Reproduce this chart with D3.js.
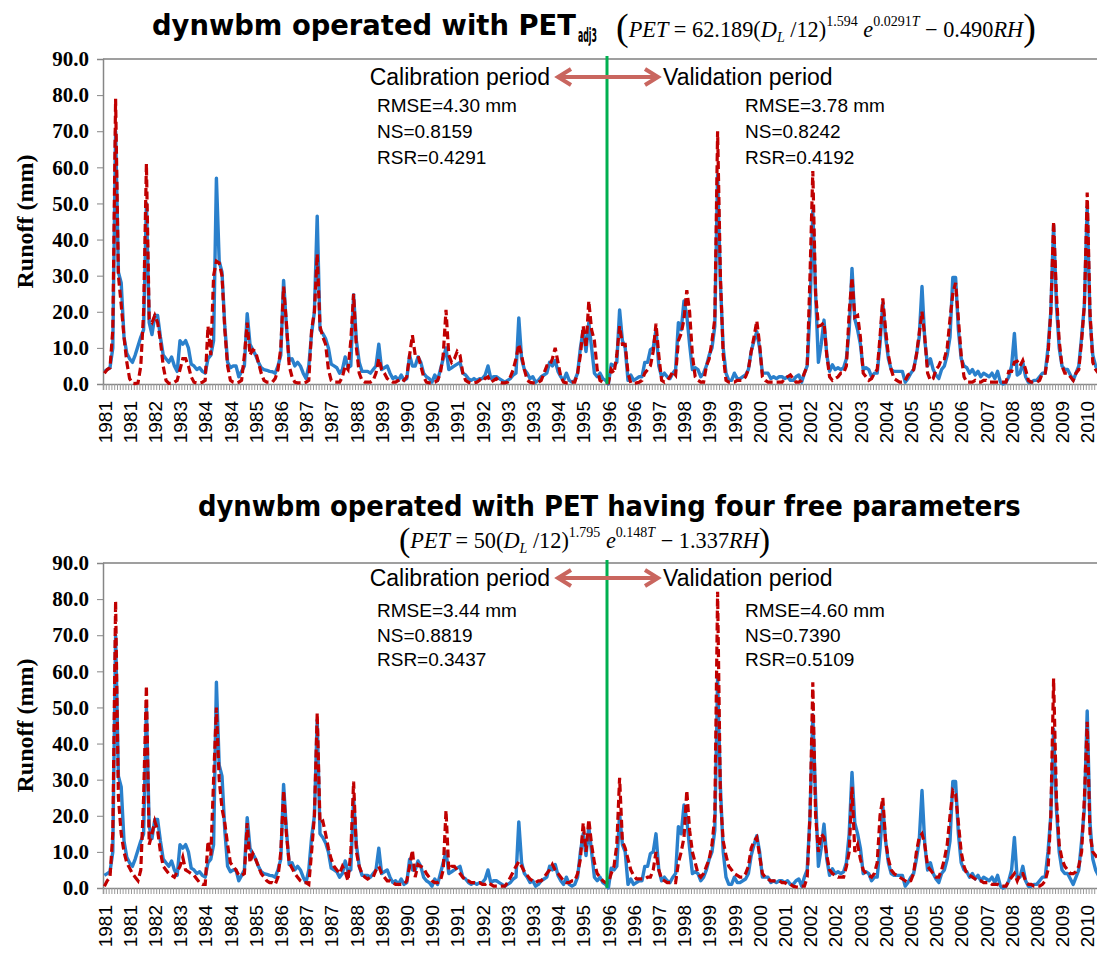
<!DOCTYPE html>
<html>
<head>
<meta charset="utf-8">
<script src="https://cdn.jsdelivr.net/npm/d3@7"></script>
<style>
  body { margin: 0; background: #fff; }
  svg { display: block; }
</style>
</head>
<body>
<script>
// monthly runoff (mm), Jan 1981 .. Dec 2010, one row per year
const observed = [
  3.5, 4, 4.5, 10, 70, 31, 28, 13, 8.5, 7, 6, 8,
  10.5, 13, 15, 50, 17, 13.7, 19, 19, 13, 8, 7, 6,
  7.5, 5, 3.5, 12, 11, 12, 10, 5.5, 5, 4, 4.5, 3.5,
  3, 7, 8, 12, 57, 34, 31, 16, 6, 4.5, 5, 5,
  2, 3.5, 5, 19.5, 11, 9.5, 8, 6, 4.5, 4, 3.8, 3.5,
  3.4, 3, 5, 8, 28.7, 16, 6.5, 7, 5, 6, 5, 3,
  1.5, 5, 14, 20, 46.5, 15, 14, 12.5, 10, 5.5, 5, 4.5,
  3, 4, 7.5, 4.5, 5, 24.7, 12, 6, 3.5, 3.5, 3.5, 3,
  4, 5, 11, 4, 4.5, 5, 3, 1.5, 2, 1, 2.5, 1,
  1.5, 8, 5, 5, 7.5, 6, 3, 2, 1.5, 0.5, 2.5, 1,
  4, 7, 10, 4, 4.5, 5, 5.5, 6, 3, 2.5, 1.5, 1,
  1.5, 1, 1.5, 1.5, 2.5, 5, 1.5, 2, 2, 1.5, 1, 0.5,
  1, 1.5, 2.5, 3, 18.3, 7, 4, 3, 1.5, 2, 0.5, 1,
  2, 2.5, 3, 6, 5, 6.5, 3.5, 2, 1, 3, 1, 0.5,
  1, 3, 10, 15, 9, 17, 10, 3, 2, 3, 1.5, 1,
  0, 5.5, 5, 6, 20.5, 12, 10, 1, 2.5, 1, 1.5, 2,
  2, 6, 6, 9.5, 10, 15, 5, 2, 3, 2, 1.5, 3,
  4, 17, 15, 23, 19, 11, 4, 4.5, 4, 2, 3, 5,
  8, 10, 16, 58, 28, 10, 3, 1, 1, 3, 1.5, 1.5,
  2, 2.5, 4, 9, 12, 14.5, 10, 3, 3, 3, 1.5, 2,
  1.5, 2, 2, 1.5, 2, 1, 1, 2, 2.5, 0.5, 3, 5,
  20, 48, 25, 6, 11, 17.7, 8, 3.5, 5.3, 4, 4.5, 4,
  4.5, 7, 15, 32, 18, 15, 11, 4, 4.5, 4, 2, 3,
  3, 11, 22.5, 13, 7, 4, 3.5, 3.5, 3.5, 3.5, 0.5, 1.5,
  3, 4, 8, 13, 27, 12, 5, 7, 4, 2.5, 1.5, 4,
  5, 8, 13, 29.5, 29.5, 15, 7, 5, 4.5, 3, 4, 2.5,
  3.5, 2, 3, 2.5, 2, 3, 1.5, 3.5, 0.5, 0, 0.5, 2,
  5, 14, 2.5, 3, 6, 2, 0.5, 0.5, 1, 1, 2, 3,
  3, 10, 20, 44, 22, 10, 5, 4, 4, 2.5, 1, 3,
  5, 13, 22, 49, 18, 8, 5, 3.5, 3, 3, 3.5, 4
];

const simAdj3 = [
  3, 4, 4.5, 15, 79, 30, 22, 13, 6, 1.5, 0.2, 0.1,
  0.3, 5, 20, 61, 18, 17, 19, 17, 12, 5, 1, 0.2,
  0.2, 0.5, 1, 4, 7, 7, 5, 2, 0.5, 0.3, 0.3, 0.5,
  1, 16, 8, 30, 34, 33.5, 30, 15, 5, 1, 0.5, 0.3,
  0.5, 1, 8, 17, 8, 9.5, 9, 6, 3, 1, 0.5, 0.5,
  0.5, 1.5, 4, 10, 27, 17, 5, 2, 0.5, 0.3, 0.3, 0.3,
  0.5, 1, 15, 20, 36, 16, 13, 11, 4, 1, 0.5, 0.5,
  0.5, 2, 5, 4, 12, 25, 10, 3, 1, 0.5, 0.5, 0.5,
  1, 3, 7, 4, 3, 1.5, 1, 0.5, 0.5, 1, 1.5, 1,
  2, 8, 13.5, 8, 8, 5, 2, 0.5, 0.3, 0.3, 0.5, 1,
  3, 8, 20.5, 8, 6, 7, 9, 8, 3, 1, 0.5, 0.3,
  0.3, 0.5, 1, 2, 1.5, 2, 0.5, 1, 1.5, 0.5, 0.3, 0.3,
  0.5, 2, 4, 7, 11, 8, 4, 1, 0.5, 0.3, 0.3, 0.5,
  1, 3, 5, 5, 7, 10, 6, 2, 0.5, 0.3, 0.3, 0.5,
  0.5, 3, 8, 16, 10, 23, 15, 12, 4, 1, 0.5, 0.3,
  0.3, 4, 3, 8, 16, 11, 11, 3, 0.3, 0.2, 0.3, 0.5,
  1, 3, 4, 5, 9, 16.7, 8, 1, 0.5, 1, 2, 3.5,
  2.5, 12, 14, 18, 26, 20, 8, 2, 1, 0.5, 0.5, 5,
  7, 12, 18, 70, 30, 8, 1, 0.5, 0.5, 0.5, 1, 1,
  1, 2, 4, 9, 13, 17.5, 11, 2, 1, 0.5, 0.5, 0.5,
  0.5, 0.5, 0.5, 1.5, 2, 2.5, 1.5, 0.5, 0.5, 1, 3, 5,
  30, 59, 25, 16, 16.3, 17, 8, 2, 1, 1.5, 2, 3,
  3, 5, 20, 29.5, 18.5, 19, 13, 3, 2, 1, 1.5, 3,
  4, 13, 23.7, 15, 8, 4, 1.5, 1, 0.5, 0.5, 1, 2.5,
  3, 4, 8, 14, 20, 13, 3, 1, 1.5, 4, 5, 7,
  7, 10, 18, 25, 28, 18, 8, 2, 0.5, 0.5, 0.5, 1,
  0.5, 0.5, 1, 1, 0.5, 0.5, 0.5, 0.5, 0.5, 0.5, 0.5, 3.5,
  3.5, 6, 6.3, 5, 6.5, 4, 1, 0.5, 0.5, 0.5, 1, 3,
  3, 8, 20, 45, 25, 12, 5, 3, 3, 2, 1, 3,
  4, 12, 22, 53, 20, 6, 4, 3, 2, 4, 5, 5
];

const simFree = [
  0.5, 2, 3, 15, 79.5, 25, 15, 10, 7, 5.5, 4, 3,
  2, 5, 25, 56, 12, 15, 18.5, 16, 10, 6, 5, 4,
  3.5, 3, 4.5, 6, 8.5, 5, 4.5, 4, 3.5, 2.5, 1.5, 1,
  1, 13, 9, 30, 50, 30, 22, 18, 12, 7, 6, 5,
  3.5, 3.5, 4, 18, 7, 9.5, 8, 6, 4, 3, 2, 1.5,
  1.5, 1, 3, 10, 27, 15, 7, 5.5, 4, 3, 2, 1.5,
  1.5, 1, 10, 20, 48.5, 18, 18.5, 15, 11, 8, 6, 5,
  4, 6, 4.5, 2, 10, 29.5, 10, 6, 4, 3, 2.5, 3,
  3, 5, 6, 4, 3, 2, 2, 1.5, 1, 1, 1, 1,
  2, 6, 10.5, 3, 6.5, 6, 5.5, 4, 3, 2, 1.5, 1.5,
  2, 5, 21.5, 5, 6, 6, 5, 4, 3, 2, 2, 1.5,
  1.5, 1.5, 1.5, 1, 1, 1.5, 1, 0.5, 0.5, 0.5, 0.5, 0.5,
  1.5, 3, 4.5, 6, 7.3, 6, 4.5, 3.5, 2.5, 2, 1.5, 2,
  2, 3, 4, 5, 6.5, 5, 4, 3, 2, 1.5, 1.5, 2,
  2, 4, 8, 18, 10, 19, 12, 7, 4, 3, 2, 1.5,
  1.5, 4, 6, 12, 30.5, 13, 11, 8, 5, 3.5, 2.5, 2.5,
  2.5, 2.5, 3, 3, 5, 10, 5, 2.5, 2, 1.5, 1.5, 1.5,
  1.5, 7, 10, 14, 27, 16, 10, 7, 4, 3, 4, 6,
  8, 12, 20, 82, 25, 13, 9, 6, 5, 4, 3.5, 3,
  3, 4, 6, 11, 13, 14, 9, 4, 3, 2.5, 2, 2,
  2, 2, 1.5, 1.5, 1, 1, 0.5, 0.3, 0.2, 0.5, 0.5, 3,
  20, 57, 20, 10, 15, 14, 9, 5, 4, 3.5, 3, 3,
  3, 6, 10, 28, 10, 12, 8, 5, 4, 3.5, 3, 4,
  7, 20, 25, 13, 8, 5, 4, 3.5, 3, 2.5, 2, 1.5,
  2, 4, 10, 14, 15, 12, 6, 5, 4, 3, 3, 5,
  8, 12, 20, 27, 26, 18, 10, 6, 4, 3.5, 3, 2.5,
  2, 2, 1.5, 1.5, 1.5, 1, 1, 1, 0.5, 0.5, 0.5, 2,
  3, 4, 2, 4, 4, 2, 1, 1, 0.5, 0.5, 0.5, 1,
  2, 5, 20, 58, 25, 12, 8, 6, 5, 4, 4, 4.5,
  6, 10, 25, 46, 15, 10, 9, 8, 8, 8, 8, 8
];

const firstYear = 1981;
const nMonths = 360;
const splitMonth = 180; // Jan 1996
const labelStep = 9;
const yTicks = [0, 10, 20, 30, 40, 50, 60, 70, 80, 90];

const titles = [
  { main: 'dynwbm operated with PET', sub: 'adj3' },
  { main: 'dynwbm operated with PET having four free parameters', sub: '' }
];
const formulas = [
  ['62.189', '1.594', '0.0291', '0.490'],
  ['50', '1.795', '0.148', '1.337']
];
const calStats = [
  ['RMSE=4.30 mm', 'NS=0.8159', 'RSR=0.4291'],
  ['RMSE=3.44 mm', 'NS=0.8819', 'RSR=0.3437']
];
const valStats = [
  ['RMSE=3.78 mm', 'NS=0.8242', 'RSR=0.4192'],
  ['RMSE=4.60 mm', 'NS=0.7390', 'RSR=0.5109']
];
const sims = [simAdj3, simFree];

const w = 1097;
const h = 954;
const left = 103;
const right = 1111;

const svg = d3.select('body').append('svg').attr('width', w).attr('height', h);

const xScale = d3.scaleLinear().domain([0, nMonths]).range([left, right]);
const step = (right - left) / nMonths;
const xMid = xScale.copy().range([left + step / 2, right + step / 2]);
const years = d3.range(nMonths).map((i) => firstYear + Math.floor(i / 12));

const panels = [
  { top: 59, bottom: 384, titleY: 35, formulaX: 616, formulaY: 37, parenSize: 38, annY: 77, statY: 105, statGap: 26 },
  { top: 563, bottom: 888, titleY: 516, formulaX: 399, formulaY: 548, parenSize: 34, annY: 578, statY: 610, statGap: 24.5 }
];

// squeeze a bold title horizontally to a given width
function fitTitle(g, str, x, y, width, size) {
  const t = g.append('text').text(str)
    .style('font-family', '"DejaVu Sans Condensed", "DejaVu Sans", sans-serif')
    .style('font-weight', 'bold').style('font-size', size + 'px');
  const len = t.node().getComputedTextLength();
  t.attr('transform', 'translate(' + x + ',' + y + ') scale(' + (width / len) + ',1)');
  return t;
}

function drawFormula(g, x, y, nums, parenSize) {
  const t = g.append('text').attr('x', x).attr('y', y)
    .style('font-family', '"Liberation Serif", "Times New Roman", serif')
    .style('font-size', '22.3px').attr('fill', '#000');
  var shift = 0;
  const parts = [
    ['(', 'paren', 0], ['PET', 'i', 0], [' = ' + nums[0], 'r', 0], ['(', 'r', 0],
    ['D', 'i', 0], ['L', 'i small', 5], [' /12', 'r', 0], [')', 'r', 0],
    [nums[1], 'small', -11], [' e', 'i', 0], [nums[2], 'small', -11], ['T', 'i small', -11],
    [' \u2212 ' + nums[3], 'r', 0], ['RH', 'i', 0], [')', 'paren', 0]
  ];
  parts.forEach((p) => {
    const cls = p[1];
    var target = p[2];
    if (cls == 'paren') target = 3;
    const ts = t.append('tspan').text(p[0]).attr('dy', target - shift);
    shift = target;
    if (cls.indexOf('i') >= 0) ts.style('font-style', 'italic');
    if (cls.indexOf('small') >= 0) ts.style('font-size', '14px');
    if (cls == 'paren') ts.style('font-size', parenSize + 'px').style('font-weight', '300');
  });
}

panels.forEach((p, k) => {
  const yScale = d3.scaleLinear().domain([0, 90]).range([p.bottom, p.top]);
  const g = svg.append('g');

  // title
  if (k == 0) {
    fitTitle(g, titles[k].main, 152, p.titleY, 424, 29);
    fitTitle(g, titles[k].sub, 578, p.titleY + 7, 19, 19);
  } else {
    fitTitle(g, titles[k].main, 198, p.titleY, 823, 29);
  }
  drawFormula(g, p.formulaX, p.formulaY, formulas[k], p.parenSize);

  // frame top
  g.append('line').attr('x1', left).attr('x2', right).attr('y1', p.top).attr('y2', p.top)
    .attr('stroke', '#7f7f7f').attr('stroke-width', 1.5);

  // y axis
  const yAxis = d3.axisLeft(yScale).tickValues(yTicks).tickFormat(d3.format('.1f'))
    .tickSize(6).tickPadding(8);
  const ya = g.append('g').attr('transform', 'translate(' + left + ',0)').call(yAxis);
  ya.select('.domain').attr('stroke', '#868686').attr('stroke-width', 1.5);
  ya.selectAll('line').attr('stroke', '#868686');
  ya.selectAll('text').style('font-family', '"Liberation Serif", "Times New Roman", serif')
    .style('font-weight', 'bold').style('font-size', '21px').attr('fill', '#000');

  // x axis: month comb + year labels
  const xAxis = d3.axisBottom(xScale).tickValues(d3.range(0, nMonths + 1)).tickSize(6).tickFormat('');
  const xa = g.append('g').attr('transform', 'translate(0,' + p.bottom + ')').call(xAxis);
  xa.select('.domain').attr('stroke', '#868686').attr('stroke-width', 1.5);
  xa.selectAll('.tick line').attr('stroke', '#9a9a9a');

  const labAxis = d3.axisBottom(xMid)
    .tickValues(d3.range(0, nMonths, labelStep)).tickSize(0).tickFormat((d) => years[d]);
  const la = g.append('g').attr('transform', 'translate(0,' + p.bottom + ')').call(labAxis);
  la.select('.domain').remove();
  la.selectAll('text').attr('transform', 'rotate(-90)').attr('x', -17).attr('y', 0).attr('dy', '0.35em')
    .style('text-anchor', 'end').style('font-family', '"Liberation Sans", Arial, sans-serif')
    .style('font-size', '19px').attr('fill', '#000');

  // y label
  g.append('text').attr('transform', 'translate(33,' + (p.top + p.bottom) / 2 + ') rotate(-90)')
    .attr('text-anchor', 'middle').text('Runoff (mm)')
    .style('font-family', '"Liberation Serif", "Times New Roman", serif')
    .style('font-weight', 'bold').style('font-size', '24px');

  // series
  const line = d3.line().x((d, i) => xMid(i)).y((d) => yScale(d));
  g.append('path').datum(observed).attr('d', line).attr('fill', 'none')
    .attr('stroke', '#2a80cc').attr('stroke-width', 3.4).attr('stroke-linejoin', 'round');
  g.append('path').datum(sims[k]).attr('d', line).attr('fill', 'none')
    .attr('stroke', '#c00000').attr('stroke-width', 3.2).attr('stroke-dasharray', '8,4');

  // split line
  const sx = xScale(splitMonth);
  g.append('line').attr('x1', sx).attr('x2', sx).attr('y1', p.top - 3).attr('y2', p.bottom)
    .attr('stroke', '#00b050').attr('stroke-width', 3);

  // annotations
  const ann = g.append('g').style('font-family', '"Liberation Sans", Arial, sans-serif').attr('fill', '#000');
  ann.append('text').attr('x', 550).attr('y', p.annY + 8).attr('text-anchor', 'end')
    .text('Calibration period').style('font-size', '23px');
  ann.append('text').attr('x', 663).attr('y', p.annY + 8)
    .text('Validation period').style('font-size', '23px');

  const arrowColor = '#c9665f';
  g.append('line').attr('x1', 558).attr('x2', 658).attr('y1', p.annY).attr('y2', p.annY)
    .attr('stroke', arrowColor).attr('stroke-width', 4);
  g.append('polyline').attr('points', [[571, p.annY - 8], [558, p.annY], [571, p.annY + 8]].join(' '))
    .attr('fill', 'none').attr('stroke', arrowColor).attr('stroke-width', 4).attr('stroke-linejoin', 'miter');
  g.append('polyline').attr('points', [[645, p.annY - 8], [658, p.annY], [645, p.annY + 8]].join(' '))
    .attr('fill', 'none').attr('stroke', arrowColor).attr('stroke-width', 4).attr('stroke-linejoin', 'miter');

  calStats[k].forEach((s, j) => {
    ann.append('text').attr('x', 377).attr('y', p.statY + 7 + j * p.statGap).text(s).style('font-size', '19px');
  });
  valStats[k].forEach((s, j) => {
    ann.append('text').attr('x', 745).attr('y', p.statY + 7 + j * p.statGap).text(s).style('font-size', '19px');
  });
});
</script>
</body>
</html>
